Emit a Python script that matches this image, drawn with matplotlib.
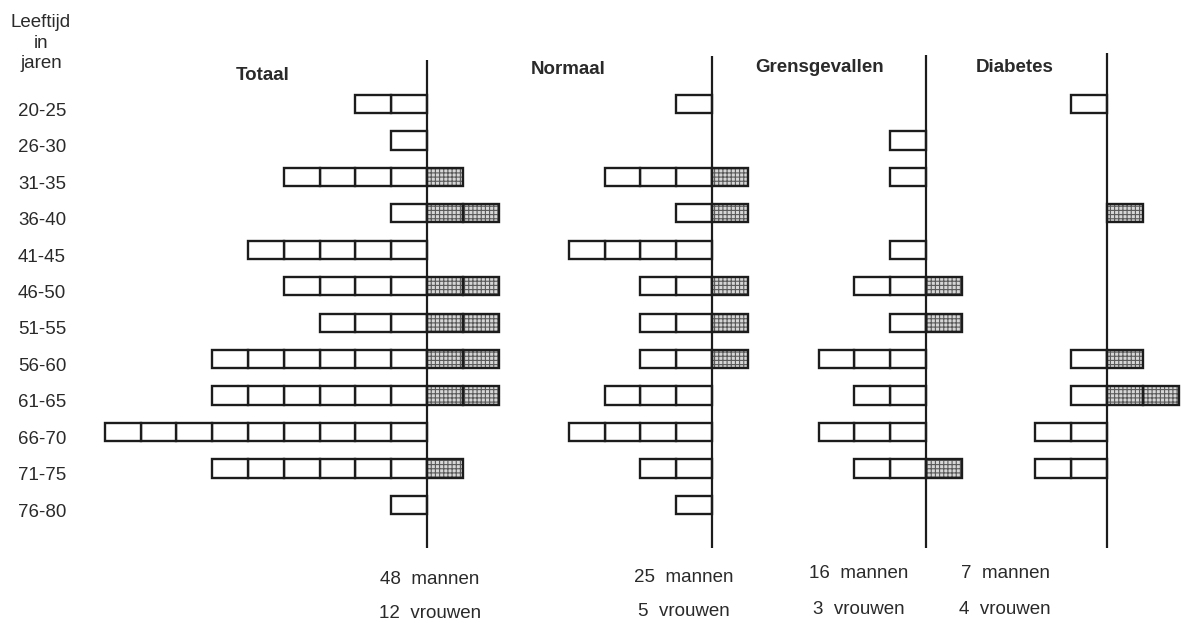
import matplotlib
matplotlib.use("Agg")
import matplotlib.pyplot as plt
import matplotlib.transforms as mtransforms

plt.rcParams['font.family'] = ['Liberation Sans', 'DejaVu Sans']
plt.rcParams['hatch.linewidth'] = 0.8

# age groups (rows, top to bottom)
ages = ["20-25", "26-30", "31-35", "36-40", "41-45", "46-50",
        "51-55", "56-60", "61-65", "66-70", "71-75", "76-80"]

# number of men / women per age group, per panel
totaal_men = [2, 1, 4, 1, 5, 4, 3, 6, 6, 9, 6, 1]
totaal_women = [0, 0, 1, 2, 0, 2, 2, 2, 2, 0, 1, 0]
normaal_men = [1, 0, 3, 1, 4, 2, 2, 2, 3, 4, 2, 1]
normaal_women = [0, 0, 1, 1, 0, 1, 1, 1, 0, 0, 0, 0]
grens_men = [0, 1, 1, 0, 1, 2, 1, 3, 2, 3, 2, 0]
grens_women = [0, 0, 0, 0, 0, 1, 1, 0, 0, 0, 1, 0]
diabetes_men = [1, 0, 0, 0, 0, 0, 0, 1, 1, 2, 2, 0]
diabetes_women = [0, 0, 0, 1, 0, 0, 0, 1, 2, 0, 0, 0]

titles = ["Totaal", "Normaal", "Grensgevallen", "Diabetes"]
men_series = [totaal_men, normaal_men, grens_men, diabetes_men]
women_series = [totaal_women, normaal_women, grens_women, diabetes_women]

# layout in pixels
W, H = 1182, 623
box_px = 35.8          # width of one person-box
row_px = 36.45         # distance between age rows
row0_px = 104          # centre of first row from top
centers = [427, 712, 926, 1107]          # x of the vertical line in each panel
title_pos = [(236, 75), (531, 70), (755, 68), (976, 67)]
count_pos = [(430, 579, 614), (684, 577, 612), (859, 573, 610), (1005, 573, 610)]
line_top = [60, 56, 55, 53]
line_bottom = 548

ink = '#1c1c1c'
text_col = '#2a2a2a'

fig = plt.figure(figsize=(W / 100, H / 100), dpi=100)

y_top = -row0_px / row_px
y_bot = y_top + H / row_px

for p in range(4):
    cx = centers[p]
    ax = fig.add_axes([0, 0, 1, 1])
    ax.set_xlim(-cx / box_px, (W - cx) / box_px)
    ax.set_ylim(y_bot, y_top)
    ax.axis('off')

    men = men_series[p]
    women = women_series[p]
    for i in range(len(ages)):
        for k in range(men[i]):
            ax.barh(i, 1, left=-k - 1, height=0.5, facecolor='white',
                    edgecolor=ink, linewidth=1.7, zorder=2)
        for k in range(women[i]):
            ax.barh(i, 1, left=k, height=0.5, facecolor='#d6d6d6',
                    edgecolor='#5a5a5a', hatch='++++', linewidth=0, zorder=2)
            ax.barh(i, 1, left=k, height=0.5, facecolor='none',
                    edgecolor=ink, linewidth=1.7, zorder=3)

    ax.vlines(0, (line_top[p] - row0_px) / row_px, (line_bottom - row0_px) / row_px,
              color=ink, linewidth=1.6, zorder=4)

    tx, ty = title_pos[p]
    fig.text(tx / W, 1 - ty / H, titles[p], fontsize=13.5, fontweight='bold',
             color=text_col, ha='left', va='center')

    bx, my, vy = count_pos[p]
    fig.text(bx / W, 1 - my / H, f"{sum(men)}  mannen", fontsize=13.5,
             color=text_col, ha='center', va='center')
    fig.text(bx / W, 1 - vy / H, f"{sum(women)}  vrouwen", fontsize=13.5,
             color=text_col, ha='center', va='center')

    if p == 0:
        trans = mtransforms.blended_transform_factory(fig.transFigure, ax.transData)
        for i, a in enumerate(ages):
            ax.text(42 / W, i + 0.2, a, transform=trans, fontsize=13.5,
                    color=text_col, ha='center', va='center')

fig.text(41 / W, 1 - 43 / H, "Leeftijd\nin\njaren", fontsize=13.5, color=text_col,
         ha='center', va='center', multialignment='center', linespacing=1.3)

fig.savefig("out.png", dpi=100)
